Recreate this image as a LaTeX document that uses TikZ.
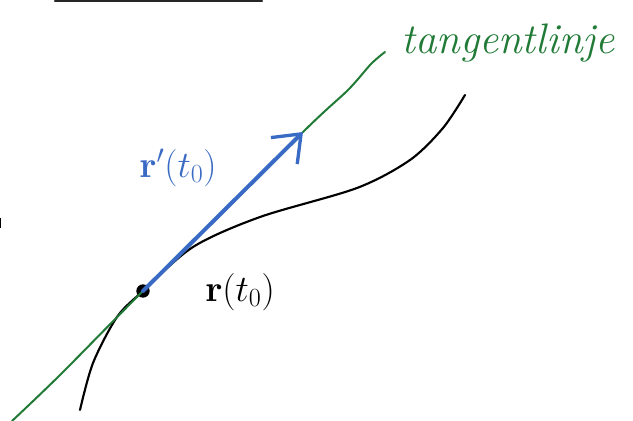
\documentclass[tikz,border=0pt]{standalone}
\usepackage{fix-cm}
\usepackage{tikz}
\usetikzlibrary{arrows.meta, positioning}
\definecolor{tangentgreen}{HTML}{217B37}
\definecolor{vecblue}{HTML}{3A6BC4}

\begin{document}
\begin{tikzpicture}[x=0.75pt, y=-0.75pt,
  curve/.style={draw=black, line width=1.6pt, line cap=round, line join=round},
  tangent/.style={draw=tangentgreen, line width=1.5pt, line cap=round, line join=round},
  vec/.style={draw=vecblue, line width=3pt, line cap=round,
    -{Straight Barb[length=18pt, width=28pt, line width=2.5pt]}},
  lbl/.style={font=\fontsize{28}{30}\selectfont}]
  \useasboundingbox (0,0) rectangle (633,421);
  % point of tangency
  \node[circle, fill=black, inner sep=0pt, minimum size=10pt] (p0) at (143,291) {};
  \coordinate (tb) at (12,421);
  \coordinate (tip) at (303,132);
  \coordinate (te) at (385,52);
  % stray strokes at the edges
  \draw[line width=1.6pt, line cap=round, black!85] (55,1) -- (262,1);
  \draw[line width=1.2pt] (0,218) -- (0,228);
  % curve r(t)
  \draw[curve] plot[smooth] coordinates {(80,410) (93,363) (117,317) (p0.center)
    (193,247) (260,217) (357,188) (410,160) (443,128) (465,95)};
  % tangent line
  \draw[tangent] plot[smooth, tension=0.5] coordinates {(tb) (60,375) (p0.center)
    (tip) (348,90) (371,64) (te)};
  \draw[vec] (p0.center) -- (tip);
  % labels
  \node[lbl, text=vecblue] (rprime) at (178,168) {$\mathbf{r}'(t_0)$};
  \node[lbl] (rt) at (240,292) {$\mathbf{r}(t_0)$};
  \node[font=\fontsize{32}{34}\selectfont\itshape, text=tangentgreen] (tname) at (508,43) {tangentlinje};
\end{tikzpicture}
\end{document}
